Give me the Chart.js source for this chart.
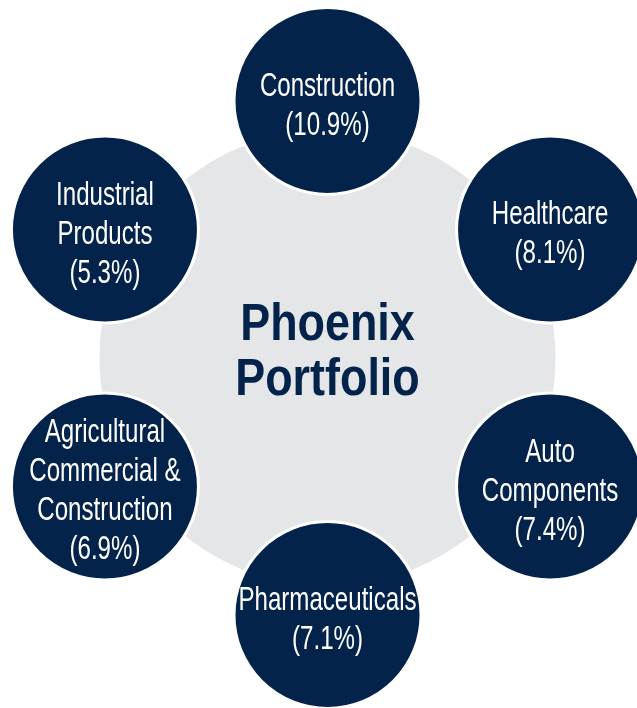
<!DOCTYPE html>
<html>
<head>
<meta charset="utf-8">
<script src="https://cdn.jsdelivr.net/npm/chart.js@4.4.1/dist/chart.umd.min.js"></script>
<style>
  html, body { margin: 0; padding: 0; background: #ffffff; }
  #marco { width: 637px; height: 708px; position: relative; }
</style>
</head>
<body>
<div id="marco"><canvas id="portafolio"></canvas></div>
<script>
// datos del gráfico
const sectores = [
    ['Construction'],
    ['Healthcare'],
    ['Auto', 'Components'],
    ['Pharmaceuticals'],
    ['Agricultural', 'Commercial &', 'Construction'],
    ['Industrial', 'Products']
];
const pesos = [10.9, 8.1, 7.4, 7.1, 6.9, 5.3];
const titulo = ['Phoenix', 'Portfolio'];

(function() {
    const azul = '#03234b';
    const gris = '#e5e6e8';
    const anillo = 257;      // distancia del centro a cada sector
    const radioSector = 93.5;
    const radioCentro = 228;

    // cada sector va a 60 grados del anterior, empezando arriba
    const puntos = sectores.map((s, i) => {
        const ang = i * Math.PI * 2 / sectores.length;
        return { x: anillo * Math.sin(ang), y: anillo * Math.cos(ang), r: radioSector };
    });

    function texto(ctx, linea, x, y, k) {
        ctx.save();
        ctx.translate(x, y);
        ctx.scale(k, 1);
        ctx.fillText(linea, 0, 0);
        ctx.restore();
    }

    const etiquetas = {
        id: 'etiquetas',
        afterDatasetsDraw(chart) {
            const ctx = chart.ctx;
            const meta = chart.getDatasetMeta(0).data;
            ctx.save();
            ctx.textAlign = 'center';
            ctx.textBaseline = 'alphabetic';

            ctx.fillStyle = '#ffffff';
            ctx.font = '33px "Liberation Sans", Arial, sans-serif';
            meta.forEach((p, i) => {
                const lineas = sectores[i].concat('(' + pesos[i].toFixed(1) + '%)');
                const lh = 39;
                let y = p.y - (lineas.length - 1) * lh / 2 + 14;
                lineas.forEach(l => {
                    texto(ctx, l, p.x, y, 0.73);
                    y += lh;
                });
            });

            const c = chart.getDatasetMeta(1).data[0];
            ctx.fillStyle = azul;
            ctx.font = 'bold 51px "Liberation Sans", Arial, sans-serif';
            texto(ctx, titulo[0], c.x, c.y - 18, 0.88);
            texto(ctx, titulo[1], c.x, c.y + 37, 0.88);
            ctx.restore();
        }
    };

    const ctx = document.getElementById('portafolio').getContext('2d');
    new Chart(ctx, {
        type: 'bubble',
        data: {
            datasets: [{
                data: puntos,
                backgroundColor: azul,
                borderColor: '#ffffff',
                borderWidth: 3,
                hoverBorderWidth: 3,
                clip: false,
                order: 0
            }, {
                data: [{ x: 0, y: 0, r: radioCentro }],
                backgroundColor: gris,
                borderWidth: 0,
                clip: false,
                order: 1
            }]
        },
        options: {
            responsive: true,
            maintainAspectRatio: false,
            animation: false,
            events: [],
            layout: { padding: 0, autoPadding: false },
            scales: {
                x: { type: 'linear', min: -327.5, max: 309.5, display: false },
                y: { type: 'linear', min: -350, max: 358, display: false }
            },
            plugins: {
                legend: { display: false },
                tooltip: { enabled: false }
            }
        },
        plugins: [etiquetas]
    });
})();
</script>
</body>
</html>
